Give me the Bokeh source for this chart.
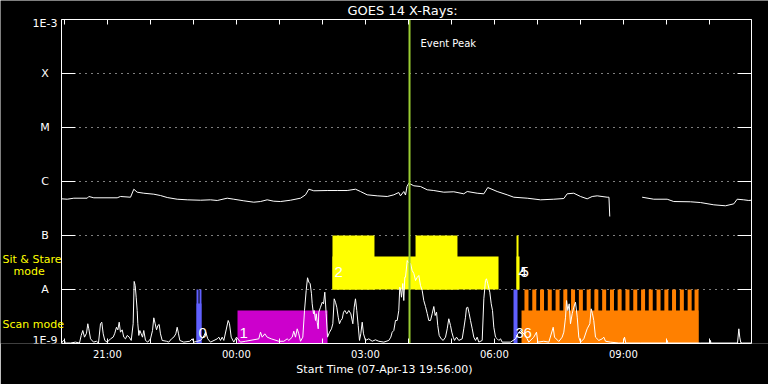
import numpy as np
import pandas as pd
from bokeh.plotting import figure
from bokeh.models import (Range1d, FixedTicker, LogAxis, DatetimeAxis, DatetimeTickFormatter,
                          Label, LabelSet, ColumnDataSource)
from bokeh.core.properties import value
from bokeh.embed import file_html
from bokeh.resources import INLINE

nan = float("nan")

# ---------------- data ----------------
start_time = "2013-04-07 19:56:00"
end_time = "2013-04-08 11:58:30"
event_peak = "2013-04-08 04:01:36"

title_text = "GOES 14 X-Rays:"
xlabel_text = "Start Time (07-Apr-13 19:56:00)"

ytick_values = [1e-9, 1e-8, 1e-7, 1e-6, 1e-5, 1e-4, 1e-3]
ytick_labels = ["1E-9", "A", "B", "C", "M", "X", "1E-3"]

xtick_major = ["2013-04-07 21:00", "2013-04-08 00:00", "2013-04-08 03:00",
               "2013-04-08 06:00", "2013-04-08 09:00"]
xtick_minor = ["2013-04-07 20:00", "2013-04-07 22:00", "2013-04-07 23:00",
               "2013-04-08 01:00", "2013-04-08 02:00", "2013-04-08 04:00",
               "2013-04-08 05:00", "2013-04-08 07:00", "2013-04-08 08:00",
               "2013-04-08 10:00", "2013-04-08 11:00"]

# GOES long channel (1-8 A): minutes after start, flux in 1e-7 W/m^2
long_min = [0, 8.0, 17.2, 35.9, 38.1, 45.1, 77.7, 82.3, 96.3, 100.9,
            105.6, 114.8, 128.8, 138.1, 147.5, 161.4, 175.4, 194.0, 207.9, 217.3,
            231.2, 240.4, 254.4, 268.3, 277.7, 287.0, 296.2, 305.6, 319.5, 333.5,
            340.5, 345.1, 352.0, 370.7, 384.7, 398.6, 410.2, 417.2, 426.5, 440.5,
            454.5, 463.7, 470.6, 473.0, 477.6, 480.0, 482.1, 484.6, 491.6, 500.9,
            510.3, 519.5, 533.4, 547.4, 561.3, 566.1, 580.0, 589.3, 594.8, 607.9,
            621.9, 631.1, 649.8, 668.4, 686.9, 700.9, 705.6, 714.8, 724.2, 733.5,
            740.5, 747.5, 761.4, 763.9, 765.0, 787.0, 810.2, 826.4, 845.1, 854.3,
            877.6, 891.6, 910.2, 926.5, 938.1, 942.8, 952.0, 959.0, 962.5]
long_flux_e7 = [4.78, 4.70, 4.91, 4.91, 5.28, 4.99, 4.99, 5.28, 5.12, 7.20,
                6.34, 6.07, 5.82, 5.50, 5.05, 4.70, 4.58, 4.50, 4.58, 4.45,
                4.91, 4.70, 4.39, 4.14, 4.26, 4.58, 4.32, 4.26, 4.50, 4.91,
                5.67, 7.20, 6.73, 6.81, 6.81, 6.81, 7.20, 6.53, 5.67, 5.43,
                5.28, 5.67, 6.26, 5.43, 6.53, 5.62, 8.08, 9.30, 8.33, 8.08,
                7.02, 6.81, 6.34, 6.45, 5.92, 6.53, 6.07, 5.92, 7.74, 6.53,
                5.67, 5.12, 4.91, 4.58, 4.70, 4.84, 5.92, 6.07, 5.28, 4.78,
                5.28, 5.43, 5.12, 5.12, 2.25, nan, 5.12, 4.70, 4.70, 4.26,
                4.21, 4.08, 3.70, 3.55, 3.86, 4.70, 4.58, 4.45, 4.50]

# GOES short channel (0.5-4 A): minutes after start, flux in 1e-9 W/m^2
short_min = [0, 2.8, 7.0, 12.6, 19.5, 25.1, 27.5, 29.7, 32.1, 34.9,
             36.7, 38.1, 40.5, 44.7, 48.8, 51.6, 54.4, 56.2, 58.2, 60.4,
             63.8, 68.4, 72.1, 74.4, 76.7, 78.6, 80.5, 82.3, 84.7, 86.9,
             89.3, 91.7, 94.5, 97.3, 100.0, 101.4, 102.8, 104.2, 105.6, 106.5,
             107.9, 109.3, 111.2, 113.0, 114.8, 117.2, 120.4, 124.2, 127.0, 128.8,
             130.7, 132.6, 134.4, 136.3, 138.1, 140.5, 146.5, 149.7, 153.5, 156.7,
             159.5, 161.4, 163.3, 165.1, 170.6, 179.0, 182.4, 184.6, 188.4, 194.0,
             197.7, 201.3, 204.1, 207.9, 217.3, 219.5, 221.9, 224.2, 226.5, 232.6,
             234.4, 236.8, 240.4, 244.2, 249.8, 256.7, 275.3, 277.7, 280.0, 283.7,
             287.0, 292.6, 303.2, 310.2, 314.9, 317.2, 321.9, 324.1, 326.5, 328.9,
             331.1, 333.5, 336.7, 339.1, 341.4, 343.3, 345.1, 347.0, 348.8, 349.8,
             351.6, 352.6, 354.4, 355.4, 356.8, 358.2, 359.0, 361.4, 363.8, 365.6,
             367.4, 369.3, 371.2, 374.0, 376.7, 378.6, 380.5, 382.3, 384.1, 386.1,
             387.9, 389.7, 391.7, 393.5, 395.3, 398.1, 400.9, 403.7, 406.5, 408.4,
             410.2, 412.0, 414.0, 415.8, 417.6, 419.6, 421.4, 424.2, 428.8, 433.5,
             438.1, 442.7, 449.7, 456.7, 459.5, 461.4, 463.7, 466.0, 468.4, 470.6,
             472.0, 473.0, 474.4, 476.2, 477.6, 479.0, 480.0, 482.4, 484.2, 487.0,
             489.3, 491.6, 494.0, 496.3, 498.6, 500.9, 503.3, 505.5, 507.9, 510.3,
             512.5, 514.9, 517.2, 519.5, 521.4, 523.3, 525.0, 527.0, 529.8, 532.6,
             535.8, 538.2, 540.4, 542.8, 544.6, 546.6, 548.4, 551.2, 554.4, 559.1,
             561.3, 563.7, 565.1, 566.9, 568.9, 570.7, 573.1, 575.3, 577.7, 580.0,
             582.3, 587.0, 589.3, 591.6, 593.0, 594.8, 597.6, 599.6, 601.4, 603.2,
             605.6, 608.0, 610.2, 612.6, 614.9, 626.5, 633.5, 636.7, 640.5, 647.4,
             652.0, 659.0, 662.8, 664.6, 673.0, 680.0, 686.1, 687.9, 693.9, 698.6,
             700.9, 703.3, 704.7, 706.5, 708.4, 710.2, 712.6, 714.8, 717.2, 719.6,
             721.8, 724.2, 728.8, 733.5, 737.2, 739.1, 740.9, 742.7, 745.1, 749.7,
             754.5, 756.7, 759.1, 766.0, 777.6, 783.7, 785.6, 787.4, 807.9, 844.2,
             845.1, 846.0, 891.6, 905.1, 905.6, 906.0, 943.3, 945.1, 946.4, 947.8,
             950.2, 962.5]
short_flux_e9 = [1.02, 1.14, 1.02, 1.02, 1.06, 1.02, 1.41, 1.74, 1.31, 1.55,
                 2.32, 1.87, 1.22, 1.06, 1.10, 1.02, 2.32, 2.48, 1.51, 1.14,
                 1.06, 1.22, 1.31, 1.55, 2.00, 1.79, 2.48, 1.62, 1.79, 1.31,
                 1.22, 1.41, 1.31, 1.14, 2.32, 14.1, 11.9, 7.20, 4.08, 2.32,
                 1.41, 1.74, 1.51, 1.31, 1.74, 1.14, 1.06, 1.22, 1.74, 2.99,
                 2.32, 1.79, 2.15, 2.25, 1.51, 1.14, 1.10, 1.06, 1.22, 1.31,
                 1.51, 2.00, 1.51, 1.14, 1.06, 1.10, 1.22, 1.06, 1.09, 1.14,
                 1.31, 1.62, 1.22, 1.06, 1.22, 1.31, 1.14, 1.31, 1.14, 2.67,
                 2.32, 1.31, 1.06, 1.31, 1.06, 1.10, 1.22, 1.62, 1.31, 1.51,
                 1.31, 1.22, 1.10, 1.10, 1.22, 1.14, 1.31, 1.69, 1.31, 1.87,
                 1.51, 1.10, 1.31, 4.08, 9.58, 16.5, 13.7, 12.8, 8.33, 5.43,
                 3.55, 4.08, 2.67, 3.55, 2.48, 1.87, 3.80, 4.70, 5.81, 5.43,
                 8.92, 3.55, 1.31, 1.62, 1.87, 2.32, 6.72, 5.81, 4.70, 3.07,
                 2.32, 2.67, 2.87, 3.80, 4.08, 3.55, 4.08, 3.55, 2.32, 4.70,
                 6.72, 4.08, 2.15, 1.14, 1.51, 2.48, 1.51, 1.14, 1.22, 1.10,
                 1.17, 1.10, 1.06, 1.14, 1.31, 1.62, 1.74, 2.67, 2.67, 4.08,
                 11.0, 10.3, 7.20, 12.9, 6.25, 16.9, 16.9, 34.4, 31.6, 30.3,
                 22.5, 19.8, 14.7, 16.7, 18.2, 11.9, 9.58, 6.25, 4.84, 3.59,
                 2.67, 2.67, 3.55, 4.84, 3.30, 3.80, 2.15, 1.41, 1.22, 1.14,
                 1.31, 1.87, 2.87, 2.15, 1.62, 1.31, 1.14, 1.31, 1.14, 1.22,
                 1.87, 3.07, 4.58, 4.70, 3.55, 2.67, 1.87, 1.31, 1.14, 1.31,
                 1.06, 1.14, 6.72, 14.7, 15.8, 12.8, 8.92, 5.43, 4.08, 2.00,
                 1.31, 1.22, 1.14, 1.22, 1.06, 1.06, 1.22, 1.51, 1.74, 1.41,
                 1.06, 1.31, 1.62, 1.06, 1.10, 1.06, 2.00, 1.31, 1.09, 1.31,
                 1.62, 3.07, 6.25, 4.08, 5.43, 2.32, 3.55, 4.70, 5.81, 3.07,
                 1.31, 1.06, 1.22, 1.87, 2.32, 4.39, 3.55, 2.67, 1.31, 1.14,
                 1.22, 1.31, 1.10, 1.06, 1.02, 1.02, 1.31, 1.02, 1.02, 1.02,
                 1.14, 1.02, 1.02, 1.02, 1.14, 1.02, 1.02, 1.87, 1.31, 1.04,
                 1.02, 1.02]

# Observations (numbered), mode and colour
obs_label = ["0", "1", "2", "3", "4", "5", "6"]
obs_start = ["2013-04-07 23:04:24", "2013-04-08 00:01:36", "2013-04-08 02:14:06",
             "2013-04-08 06:26:42", "2013-04-08 06:30:54", "2013-04-08 06:33:42",
             "2013-04-08 06:37:54"]
obs_mode = ["scan", "scan", "sit", "scan", "sit", "sit", "scan"]
obs_color = ["#6060ff", "#cc00cc", "#ffff00", "#6060ff", "#ffff00", "#ffff00", "#ff8000"]

mode_bottom = {"scan": 1e-9, "sit": 1e-8}
mode_label_level = {"scan": 1.57e-9, "sit": 2.1e-8}
mode_names = ["Sit & Stare", "mode", "Scan mode"]

# Raster segments of each observation (base extents first, then the taller rasters)
seg_obs = [0, 1, 2, 5, 6, 0, 0, 2, 2, 3, 4]
seg_start = ["2013-04-07 23:04:24", "2013-04-08 00:01:36", "2013-04-08 02:14:06",
             "2013-04-08 06:30:54", "2013-04-08 06:37:54", "2013-04-07 23:04:24",
             "2013-04-07 23:08:36", "2013-04-08 02:14:06", "2013-04-08 04:10:00",
             "2013-04-08 06:26:42", "2013-04-08 06:30:54"]
seg_end = ["2013-04-07 23:11:18", "2013-04-08 02:07:12", "2013-04-08 06:05:48",
           "2013-04-08 06:35:06", "2013-04-08 10:44:48", "2013-04-07 23:07:12",
           "2013-04-07 23:11:18", "2013-04-08 03:12:42", "2013-04-08 05:08:30",
           "2013-04-08 06:32:18", "2013-04-08 06:33:42"]
seg_top = [5.5e-9, 4.1e-9, 4.1e-8, 4.1e-8, 4.1e-9, 1e-8, 1e-8, 1e-7, 1e-7, 1e-8, 1e-7]

# Repeated rasters of observation 6
tooth_start = ["06:42:00", "06:52:54", "07:03:42", "07:14:30", "07:25:24", "07:36:12",
               "07:47:00", "07:57:54", "08:08:48", "08:19:30", "08:30:24", "08:41:18",
               "08:52:00", "09:02:54", "09:13:48", "09:24:42", "09:35:24", "09:46:18",
               "09:57:12", "10:07:54", "10:18:48", "10:29:42", "10:39:20"]
tooth_seconds = 335
tooth_top = 1e-8

# ---------------- layout (view window) ----------------
VIEW_X = ("2013-04-07 18:30:53", "2013-04-08 12:22:30")   # whole canvas width
VIEW_Y = (1e-9, 2.25e-3)                                   # canvas top .. axis bottom

t0 = pd.Timestamp(start_time)


def ms(s):
    return pd.Timestamp(s).value / 1e6


FONT = "DejaVu Sans"
WHITE = "white"

p = figure(width=768, height=384, x_axis_type="datetime", y_axis_type="log",
           x_range=Range1d(pd.Timestamp(VIEW_X[0]), pd.Timestamp(VIEW_X[1])),
           y_range=Range1d(*VIEW_Y),
           output_backend="svg", toolbar_location=None, title=None,
           background_fill_color="black", border_fill_color="black",
           min_border_left=0, min_border_right=0, min_border_top=0, min_border_bottom=41,
           outline_line_color=None)
p.grid.visible = False

x_bounds = (ms(start_time), ms(end_time))
y_bounds = (ytick_values[0], ytick_values[-1])

xt = FixedTicker(ticks=[ms(s) for s in xtick_major], minor_ticks=[ms(s) for s in xtick_minor])
fmt = DatetimeTickFormatter(hours="%H:%M", hourmin="%H:%M", days="%H:%M", minutes="%H:%M")


def style_x(ax, show):
    ax.ticker = xt
    ax.formatter = fmt
    ax.bounds = x_bounds
    ax.axis_line_color = WHITE
    ax.major_tick_line_color = WHITE
    ax.minor_tick_line_color = WHITE
    ax.major_tick_in = 5
    ax.major_tick_out = 0
    ax.minor_tick_in = 5
    ax.minor_tick_out = 0
    if show:
        ax.major_label_text_color = WHITE
        ax.major_label_text_font = FONT
        ax.major_label_text_font_size = "10px"
        ax.major_label_standoff = 5
    else:
        ax.major_label_text_color = None
        ax.major_label_text_font_size = "0px"
        ax.major_label_standoff = 0


bottom_ax = p.xaxis[0]
style_x(bottom_ax, True)
bottom_ax.axis_label = xlabel_text
bottom_ax.axis_label_text_color = WHITE
bottom_ax.axis_label_text_font = FONT
bottom_ax.axis_label_text_font_size = "11px"
bottom_ax.axis_label_text_font_style = "normal"
bottom_ax.axis_label_standoff = 0

top_ax = DatetimeAxis()
style_x(top_ax, False)
top_ax.fixed_location = ytick_values[-1]
p.add_layout(top_ax, "above")

yt = FixedTicker(ticks=ytick_values, minor_ticks=[])


def style_y(ax, loc):
    ax.ticker = yt
    ax.bounds = y_bounds
    ax.fixed_location = loc
    ax.axis_line_color = WHITE
    ax.major_tick_line_color = WHITE
    ax.minor_tick_line_color = None
    ax.major_tick_in = 14
    ax.major_tick_out = 0
    ax.major_label_text_font_size = "0px"
    ax.major_label_text_color = None
    ax.major_label_standoff = 0


style_y(p.yaxis[0], x_bounds[0])
right_ax = LogAxis()
style_y(right_ax, x_bounds[1])
p.add_layout(right_ax, "right")

# dotted grid lines at the class levels
grid_levels = ytick_values[1:-1]
p.segment(x0=[pd.Timestamp(start_time)] * len(grid_levels), y0=grid_levels,
          x1=[pd.Timestamp(end_time)] * len(grid_levels), y1=grid_levels,
          line_color=WHITE, line_width=1, line_dash="1 5")

# observation bars
seg_left = pd.to_datetime(seg_start)
seg_right = pd.to_datetime(seg_end)
seg_bottom = [mode_bottom[obs_mode[i]] for i in seg_obs]
seg_color = [obs_color[i] for i in seg_obs]
p.quad(left=seg_left, right=seg_right, bottom=seg_bottom, top=seg_top,
       fill_color=seg_color, line_color=None)

tooth_left = pd.to_datetime(["2013-04-08 " + s for s in tooth_start])
tooth_right = tooth_left + pd.Timedelta(seconds=tooth_seconds)
p.quad(left=tooth_left, right=tooth_right, bottom=mode_bottom[obs_mode[6]], top=tooth_top,
       fill_color=obs_color[6], line_color=None)

# GOES curves
long_t = t0 + pd.to_timedelta(np.asarray(long_min, float), unit="m")
short_t = t0 + pd.to_timedelta(np.asarray(short_min, float), unit="m")
p.line(long_t, np.asarray(long_flux_e7) * 1e-7, line_color=WHITE, line_width=1)
p.line(short_t, np.asarray(short_flux_e9) * 1e-9, line_color=WHITE, line_width=1)

# observation numbers
p.text(x=pd.to_datetime(obs_start), y=[mode_label_level[m] for m in obs_mode], text=obs_label,
       text_color=WHITE, text_font=value("Liberation Sans"), text_font_size="15px",
       text_align="left", text_baseline="middle", x_offset=2)

# event peak
p.segment(x0=[pd.Timestamp(event_peak)], y0=[y_bounds[0]], x1=[pd.Timestamp(event_peak)],
          y1=[y_bounds[1]], line_color="#9acd32", line_width=2)
p.add_layout(Label(x=ms(event_peak), y=300, y_units="screen", x_offset=11, text="Event Peak",
                   text_color=WHITE, text_font=FONT, text_font_size="10px",
                   text_align="left", text_baseline="middle"))

# y tick labels (centred in the left margin, as in the original)
ysrc = ColumnDataSource(dict(y=ytick_values[1:-1], text=ytick_labels[1:-1]))
p.add_layout(LabelSet(x=44.5, x_units="screen", y="y", text="text", source=ysrc,
                      text_color=WHITE, text_font=value(FONT), text_font_size="11px",
                      text_align="center", text_baseline="middle"))
p.add_layout(Label(x=44.5, x_units="screen", y=320, y_units="screen", text=ytick_labels[-1],
                   text_color=WHITE, text_font=FONT, text_font_size="11px",
                   text_align="center", text_baseline="middle"))
p.add_layout(Label(x=44.5, x_units="screen", y=3, y_units="screen", text=ytick_labels[0],
                   text_color=WHITE, text_font=FONT, text_font_size="11px",
                   text_align="center", text_baseline="middle"))

# mode labels
for txt, xx, yy in zip(mode_names, [2, 13, 2], [84, 72, 19]):
    p.add_layout(Label(x=xx, y=yy, x_units="screen", y_units="screen", text=txt,
                       text_color="#ffff00", text_font=FONT, text_font_size="11px",
                       text_align="left", text_baseline="middle"))

# title
p.add_layout(Label(x=402, y=333, x_units="screen", y_units="screen", text=title_text,
                   text_color=WHITE, text_font=FONT, text_font_size="13px",
                   text_align="center", text_baseline="middle"))

open("out.html", "w").write(file_html(p, INLINE))
